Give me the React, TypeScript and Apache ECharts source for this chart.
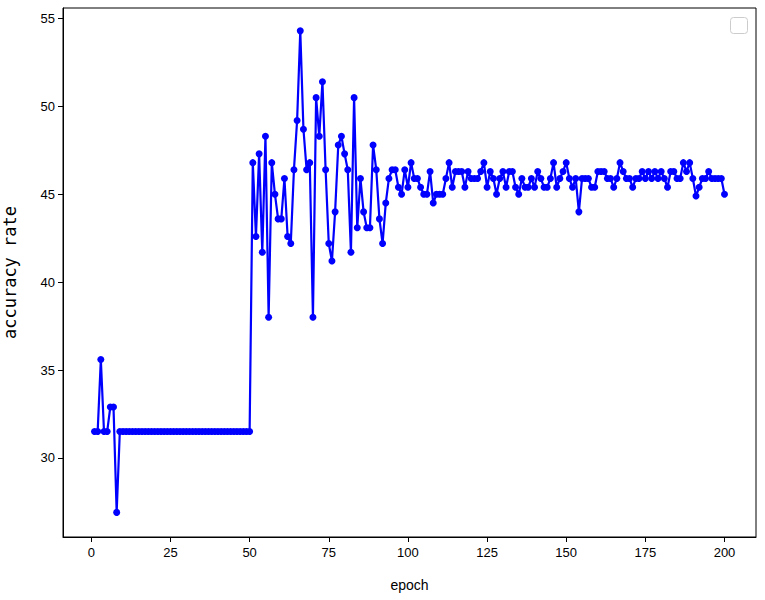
import React, { useEffect, useRef } from "react";
import * as echarts from "echarts";

const epochs: number[] = Array.from({ length: 200 }, (_, i) => i + 1);

const acc1to50: number[] = [
  31.5, 31.5, 35.6, 31.5, 31.5, 32.9, 32.9, 26.9, 31.5, 31.5,
  31.5, 31.5, 31.5, 31.5, 31.5, 31.5, 31.5, 31.5, 31.5, 31.5,
  31.5, 31.5, 31.5, 31.5, 31.5, 31.5, 31.5, 31.5, 31.5, 31.5,
  31.5, 31.5, 31.5, 31.5, 31.5, 31.5, 31.5, 31.5, 31.5, 31.5,
  31.5, 31.5, 31.5, 31.5, 31.5, 31.5, 31.5, 31.5, 31.5, 31.5,
];
const acc51to100: number[] = [
  46.8, 42.6, 47.3, 41.7, 48.3, 38.0, 46.8, 45.0, 43.6, 43.6,
  45.9, 42.6, 42.2, 46.4, 49.2, 54.3, 48.7, 46.4, 46.8, 38.0,
  50.5, 48.3, 51.4, 46.4, 42.2, 41.2, 44.0, 47.8, 48.3, 47.3,
  46.4, 41.7, 50.5, 43.1, 45.9, 44.0, 43.1, 43.1, 47.8, 46.4,
  43.6, 42.2, 44.5, 45.9, 46.4, 46.4, 45.4, 45.0, 46.4, 45.4,
];
const acc101to150: number[] = [
  46.8, 45.9, 45.9, 45.4, 45.0, 45.0, 46.3, 44.5, 45.0, 45.0,
  45.0, 45.9, 46.8, 45.4, 46.3, 46.3, 46.3, 45.4, 46.3, 45.9,
  45.9, 45.9, 46.3, 46.8, 45.4, 46.3, 45.9, 45.0, 45.9, 46.3,
  45.4, 46.3, 46.3, 45.4, 45.0, 45.9, 45.4, 45.4, 45.9, 45.4,
  46.3, 45.9, 45.4, 45.4, 45.9, 46.8, 45.4, 45.9, 46.3, 46.8,
];
const acc151to200: number[] = [
  45.9, 45.4, 45.9, 44.0, 45.9, 45.9, 45.9, 45.4, 45.4, 46.3,
  46.3, 46.3, 45.9, 45.9, 45.4, 45.9, 46.8, 46.3, 45.9, 45.9,
  45.4, 45.9, 45.9, 46.3, 45.9, 46.3, 45.9, 46.3, 45.9, 46.3,
  45.9, 45.4, 46.3, 46.3, 45.9, 45.9, 46.8, 46.3, 46.8, 45.9,
  44.9, 45.4, 45.9, 45.9, 46.3, 45.9, 45.9, 45.9, 45.9, 45.0,
];

const xTicks: number[] = [0, 25, 50, 75, 100, 125, 150, 175, 200];
const yTicks: number[] = [30, 35, 40, 45, 50, 55];

export default function App() {
  const ref = useRef<HTMLDivElement>(null);
  useEffect(() => {
    if (!ref.current) return;
    const chart = echarts.init(ref.current, null, { renderer: "svg" });
    const acc = [...acc1to50, ...acc51to100, ...acc101to150, ...acc151to200];
    const data = epochs.map((e, i) => [e, acc[i]]);
    const font = "'Liberation Sans', Arial, sans-serif";
    chart.setOption({
      animation: false,
      backgroundColor: "#ffffff",
      grid: {
        left: 63,
        top: 8,
        right: 9,
        bottom: 63,
        containLabel: false,
        outerBoundsMode: "none",
        show: true,
        borderColor: "#000",
        borderWidth: 1,
        backgroundColor: "transparent",
      },
      xAxis: {
        type: "value",
        min: -8.95,
        max: 209.95,
        name: "epoch",
        nameLocation: "middle",
        nameGap: 41,
        nameTextStyle: { color: "#000", fontSize: 14, fontFamily: font },
        axisLine: { show: true, onZero: false, lineStyle: { color: "#000", width: 1 } },
        axisTick: { show: true, length: 5, inside: false, customValues: xTicks, lineStyle: { color: "#000" } },
        axisLabel: { customValues: xTicks, color: "#000", fontSize: 13, fontFamily: font, margin: 9 },
        splitLine: { show: false },
      },
      yAxis: {
        type: "value",
        min: 25.5,
        max: 55.6,
        name: "accuracy rate",
        nameLocation: "middle",
        nameGap: 45,
        nameRotate: 90,
        nameTextStyle: { color: "#000", fontSize: 17, fontFamily: "'DejaVu Sans Mono', monospace" },
        axisLine: { show: true, onZero: false, lineStyle: { color: "#000", width: 1 } },
        axisTick: { show: true, length: 5, inside: false, customValues: yTicks, lineStyle: { color: "#000" } },
        axisLabel: { customValues: yTicks, color: "#000", fontSize: 13, fontFamily: font, margin: 8 },
        splitLine: { show: false },
      },
      graphic: [
        {
          type: "rect",
          right: 17,
          top: 17,
          shape: { width: 17, height: 16, r: 3 },
          style: { fill: "#fff", stroke: "#cccccc", lineWidth: 1 },
        },
      ],
      series: [
        {
          type: "line",
          data,
          symbol: "circle",
          symbolSize: 7,
          showAllSymbol: true,
          lineStyle: { color: "#0000ff", width: 2.2 },
          itemStyle: { color: "#0000ff" },
        },
      ],
    });
    return () => chart.dispose();
  }, []);
  return (
    <div
      ref={ref}
      style={{ position: "fixed", left: 0, top: 0, width: 765, height: 600 }}
    />
  );
}
